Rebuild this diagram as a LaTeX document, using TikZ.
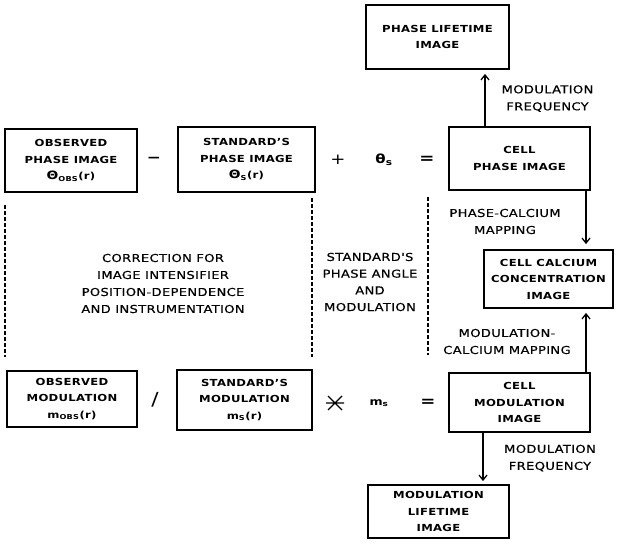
\documentclass[tikz,border=0pt]{standalone}
\usepackage{fontspec}
\setmainfont{DejaVu Sans}[FakeStretch=1.2, LetterSpace=3]
\newfontfamily\labfont{DejaVu Sans}[FakeStretch=1.2, LetterSpace=3, FakeBold=0.4]
\usetikzlibrary{arrows.meta,calc}
\tikzset{
  box/.style={draw, line width=1.8pt, inner sep=0pt, align=center,
    font=\bfseries\fontsize{9.7}{16.5}\selectfont},
  lbl/.style={inner sep=0pt, align=center, font=\labfont\fontsize{10.9}{17}\selectfont},
  op/.style={inner sep=0pt, font=\fontsize{15}{15}\selectfont},
  arr/.style={line width=1.3pt, -{Straight Barb[length=5pt,width=8pt]}},
  dsh/.style={line width=1.2pt, dash pattern=on 4pt off 2pt}
}
\newcommand{\bigth}{{\fontsize{11.5}{11}\selectfont Θ}}
\begin{document}
\begin{tikzpicture}[x=1pt,y=-1pt]
\useasboundingbox (0,0) rectangle (631,548);
% boxes
\node[box, minimum width=143pt, minimum height=64pt] (plt) at (437.5,37) {PHASE LIFETIME\\IMAGE};
\node[box, minimum width=132pt, minimum height=63pt] (obsph) at (71,160.5) {OBSERVED\\PHASE IMAGE\\\bigth\textsubscript{OBS}(r)};
\node[box, minimum width=137pt, minimum height=65pt] (stdph) at (246.5,159.5) {STANDARD'S\\PHASE IMAGE\\\bigth\textsubscript{S}(r)};
\node[box, minimum width=141pt, minimum height=63pt] (cellph) at (519.5,158.5) {CELL\\PHASE IMAGE};
\node[box, minimum width=129pt, minimum height=58pt] (calc) at (548.5,279) {CELL CALCIUM\\CONCENTRATION\\IMAGE};
\node[box, minimum width=130pt, minimum height=56pt] (obsmod) at (72,399) {OBSERVED\\MODULATION\\m\textsubscript{OBS}(r)};
\node[box, minimum width=135pt, minimum height=60pt] (stdmod) at (244.5,400) {STANDARD'S\\MODULATION\\m\textsubscript{S}(r)};
\node[box, minimum width=141pt, minimum height=59pt] (cellmod) at (519.5,402.5) {CELL\\MODULATION\\IMAGE};
\node[box, minimum width=141pt, minimum height=53pt] (mlt) at (438.5,511.5) {MODULATION\\LIFETIME\\IMAGE};
% operators
\node[op, font=\bfseries\fontsize{14}{14}\selectfont] (minus) at (154,160) {−};
\node[op] (plus) at (338,160) {+};
\node[op, font=\bfseries\fontsize{12.5}{12.5}\selectfont] (thetas) at (384,160) {θ\textsubscript{s}};
\node[op, font=\bfseries\fontsize{15}{15}\selectfont] (eq1) at (427,160) {=};
\node[op, font=\fontsize{18}{18}\selectfont] (slash) at (155,400) {/};
\coordinate (times) at (335,403);
\draw[line width=1.2pt] ($(times)+(-7,-7)$) -- ($(times)+(7,7)$)
  ($(times)+(-7,7)$) -- ($(times)+(7,-7)$)
  ($(times)+(-9,0)$) -- ($(times)+(9,0)$);
\node[op, font=\bfseries\fontsize{10.5}{10}\selectfont] (ms) at (379,403) {m\textsubscript{s}};
\node[op, font=\bfseries\fontsize{15}{15}\selectfont] (eq2) at (428,403) {=};
% labels
\node[lbl] (mf1) at (547.5,98.5) {MODULATION\\FREQUENCY};
\node[lbl] (mf2) at (550,458) {MODULATION\\FREQUENCY};
\node[lbl] (pcm) at (505,221.5) {PHASE-CALCIUM\\MAPPING};
\node[lbl] (mcm) at (507,341.5) {MODULATION-\\CALCIUM MAPPING};
\node[lbl] (corr) at (163,283.5) {CORRECTION FOR\\IMAGE INTENSIFIER\\POSITION-DEPENDENCE\\AND INSTRUMENTATION};
\node[lbl, font=\labfont\fontsize{10.9}{16.7}\selectfont] (stdang) at (370,282) {STANDARD'S\\PHASE ANGLE\\AND\\MODULATION};
% arrows
\coordinate (ax1) at (485,0);
\coordinate (ax2) at (586,0);
\coordinate (ax3) at (483,0);
\draw[arr, shorten >=4pt] (cellph.north -| ax1) -- (plt.south -| ax1);
\draw[arr, shorten >=5pt] (cellph.south -| ax2) -- (calc.north -| ax2);
\draw[arr, shorten >=4pt] (cellmod.north -| ax2) -- (calc.south -| ax2);
\draw[arr, shorten >=3pt] (cellmod.south -| ax3) -- (mlt.north -| ax3);
% dashed separators
\coordinate (d1a) at (5,205); \coordinate (d1b) at (5,357);
\coordinate (d2a) at (312,198); \coordinate (d2b) at (312,357);
\coordinate (d3a) at (428,197); \coordinate (d3b) at (428,355);
\draw[dsh] (d1a) -- (d1b);
\draw[dsh] (d2a) -- (d2b);
\draw[dsh] (d3a) -- (d3b);
\end{tikzpicture}
\end{document}
